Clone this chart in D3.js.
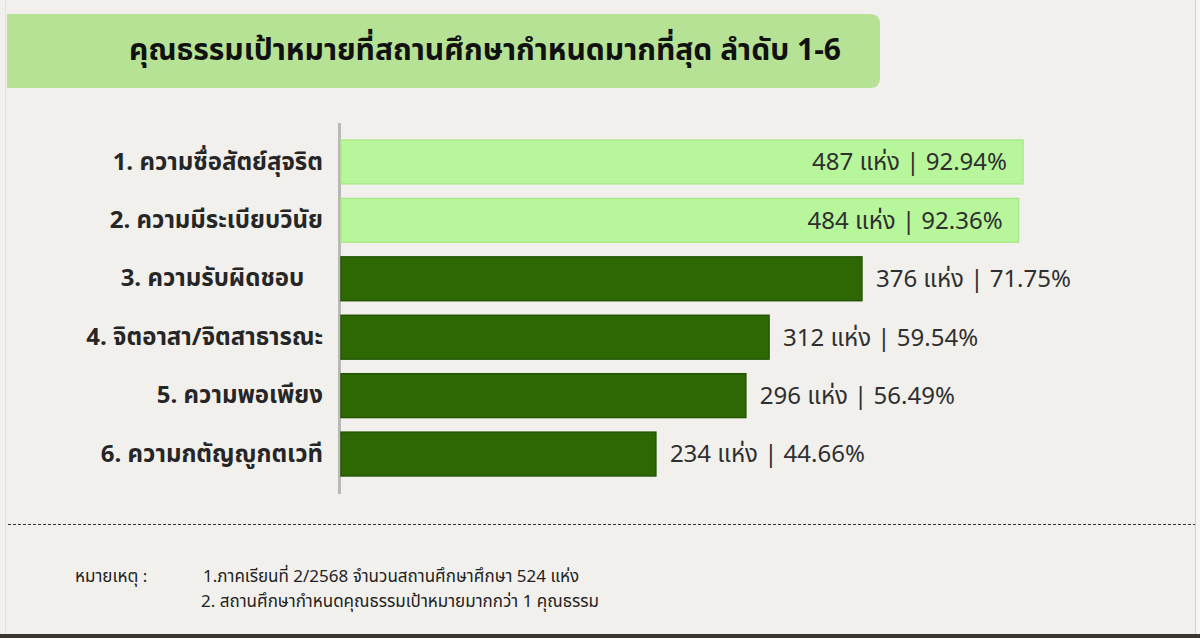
<!DOCTYPE html>
<html>
<head>
<meta charset="utf-8">
<script src="https://cdn.jsdelivr.net/npm/d3@7"></script>
<style>
  html, body { margin: 0; padding: 0; background: #3b352d; }
  svg { display: block; font-family: "Noto Sans Thai", "Noto Sans", sans-serif; }
</style>
</head>
<body>
<div id="graph"></div>
<script>
// chart data
const categories = [
	"1. ความซื่อสัตย์สุจริต",
	"2. ความมีระเบียบวินัย",
	"3. ความรับผิดชอบ\u00a0\u00a0\u00a0",
	"4. จิตอาสา/จิตสาธารณะ",
	"5. ความพอเพียง",
	"6. ความกตัญญูกตเวที"
];
const counts = [487, 484, 376, 312, 296, 234];
const percents = ["92.94", "92.36", "71.75", "59.54", "56.49", "44.66"];
const unit = "แห่ง";
const title = "คุณธรรมเป้าหมายที่สถานศึกษากำหนดมากที่สุด ลำดับ 1-6";
const noteHead = "หมายเหตุ :";
const notes = [
	"1.ภาคเรียนที่ 2/2568 จำนวนสถานศึกษาศึกษา 524 แห่ง",
	"2. สถานศึกษากำหนดคุณธรรมเป้าหมายมากกว่า 1 คุณธรรม"
];

const width = 1200, height = 638;

const svg = d3.select("div#graph")
	.append("svg")
	.attr("width", width)
	.attr("height", height);

// paper background
svg.append("rect")
	.attr("x", 0).attr("y", 0)
	.attr("width", 1196).attr("height", 634)
	.attr("fill", "#f2f0ec");
svg.append("rect")
	.attr("x", 1196).attr("y", 0)
	.attr("width", 4).attr("height", 634)
	.attr("fill", "#f6f5f2");
svg.append("line")
	.attr("x1", 1195.5).attr("x2", 1195.5)
	.attr("y1", 0).attr("y2", 634)
	.attr("stroke", "#d4d2ce").attr("stroke-width", 1);
svg.append("line")
	.attr("x1", 5.5).attr("x2", 5.5)
	.attr("y1", 0).attr("y2", 634)
	.attr("stroke", "#e4e2de").attr("stroke-width", 1);

// title banner, rounded on the right only
svg.append("path")
	.attr("d", "M7,14 H870 Q880,14 880,24 V78 Q880,88 870,88 H7 Z")
	.attr("fill", "#b5e294");
svg.append("text")
	.attr("x", 485).attr("y", 51)
	.attr("text-anchor", "middle")
	.attr("dominant-baseline", "central")
	.attr("font-size", 30)
	.attr("font-weight", 700)
	.attr("fill", "#111")
	.text(title);

const xScale = d3.scaleLinear()
	.domain([17, 487])
	.range([341, 1023]);

const yScale = d3.scaleBand()
	.domain(categories)
	.range([122.5, 493.5])
	.paddingInner(0.25)
	.paddingOuter(0.3);

const yAxis = d3.axisLeft(yScale)
	.tickSize(0)
	.tickPadding(16);

const gy = svg.append("g")
	.attr("class", "y axis")
	.attr("transform", "translate(339,0)")
	.call(yAxis);
gy.select(".domain")
	.attr("stroke", "#b8b8b6")
	.attr("stroke-width", 3);
gy.selectAll("text")
	.attr("font-size", 24)
	.attr("font-weight", 700)
	.attr("fill", "#262626")
	.style("font-family", "\"Noto Sans Thai\", \"Noto Sans\", sans-serif");

const rows = categories.map((c, i) => ({cat: c, n: counts[i], p: percents[i]}));
const isTop = d => d.n > 400;

svg.selectAll("rect.bar")
	.data(rows)
	.enter()
	.append("rect")
	.attr("class", "bar")
	.attr("x", xScale(17))
	.attr("y", d => yScale(d.cat))
	.attr("width", d => xScale(d.n) - xScale(17))
	.attr("height", yScale.bandwidth())
	.attr("fill", d => isTop(d) ? "#b8f69b" : "#2d6804")
	.attr("stroke", d => isTop(d) ? "#ace98e" : "#245603")
	.attr("stroke-width", 1.5);

svg.selectAll("text.val")
	.data(rows)
	.enter()
	.append("text")
	.attr("class", "val")
	.attr("x", d => isTop(d) ? xScale(d.n) - 16 : xScale(d.n) + 14)
	.attr("y", d => yScale(d.cat) + yScale.bandwidth() / 2)
	.attr("dy", "0.35em")
	.attr("text-anchor", d => isTop(d) ? "end" : "start")
	.attr("font-size", 24)
	.attr("fill", "#2f2f2f")
	.text(d => `${d.n} ${unit} | ${d.p}%`);

// dashed separator
svg.append("line")
	.attr("x1", 8).attr("x2", 1195)
	.attr("y1", 524.5).attr("y2", 524.5)
	.attr("stroke", "#333")
	.attr("stroke-width", 1)
	.attr("stroke-dasharray", "3,2");

// footnote
svg.append("text")
	.attr("x", 75).attr("y", 582)
	.attr("font-size", 17)
	.attr("fill", "#222")
	.text(noteHead);
svg.selectAll("text.note")
	.data(notes)
	.enter()
	.append("text")
	.attr("class", "note")
	.attr("x", (d, i) => i === 0 ? 203 : 201)
	.attr("y", (d, i) => 582 + i * 25)
	.attr("font-size", 17)
	.attr("fill", "#222")
	.text(d => d);
</script>
</body>
</html>
